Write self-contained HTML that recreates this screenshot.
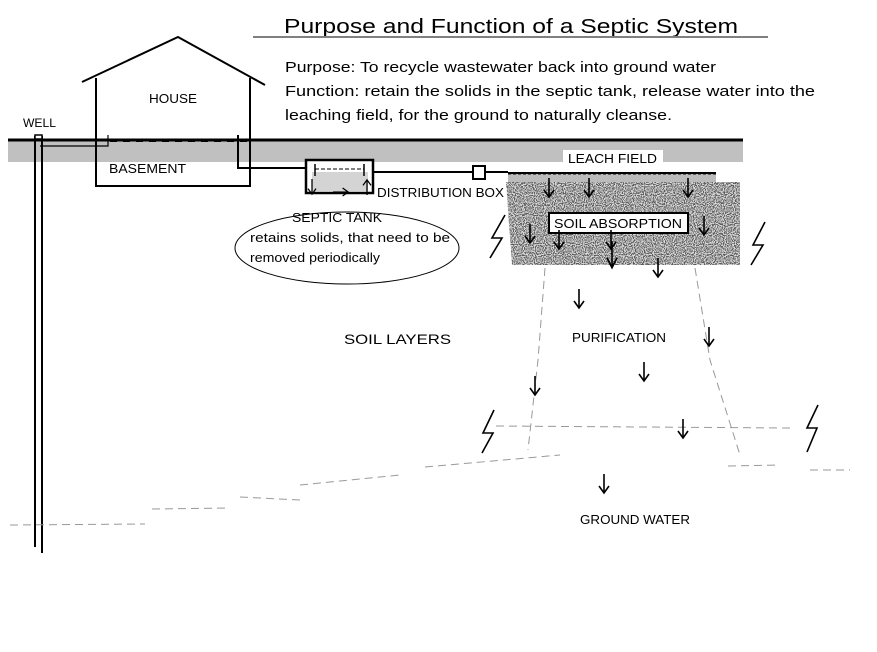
<!DOCTYPE html>
<html><head><meta charset="utf-8"><style>
html,body{margin:0;padding:0;background:#fff;}
svg{display:block;}
text{font-family:"Liberation Sans",sans-serif;fill:#000;}
</style></head><body>
<svg width="877" height="652" viewBox="0 0 877 652" xmlns="http://www.w3.org/2000/svg">
<defs>
<filter id="stip" x="0" y="0" width="100%" height="100%">
<feTurbulence type="fractalNoise" baseFrequency="0.9" numOctaves="1" seed="3" result="n"/>
<feColorMatrix in="n" type="matrix" values="0 0 0 0 0.1  0 0 0 0 0.1  0 0 0 0 0.1  0 0 0 -9 4.9" result="d"/>
<feComposite in="d" in2="SourceGraphic" operator="in"/>
</filter>
<g id="ar"><line x1="0" y1="-10" x2="0" y2="8" stroke="#000" stroke-width="1.6"/><polyline points="-5,2 0,9 5,2" fill="none" stroke="#000" stroke-width="1.6"/></g>
</defs>

<text x="284" y="33" font-size="20" textLength="454" lengthAdjust="spacingAndGlyphs">Purpose and Function of a Septic System</text>
<line x1="253" y1="37" x2="768" y2="37" stroke="#808080" stroke-width="2"/>
<text x="285" y="72" font-size="15" fill="#333" textLength="431" lengthAdjust="spacingAndGlyphs">Purpose: To recycle wastewater back into ground water</text>
<text x="285" y="96" font-size="15" textLength="530" lengthAdjust="spacingAndGlyphs">Function: retain the solids in the septic tank, release water into the</text>
<text x="285" y="120" font-size="15" textLength="387" lengthAdjust="spacingAndGlyphs">leaching field, for the ground to naturally cleanse.</text>

<rect x="8" y="141" width="735" height="21" fill="#c0c0c0"/>
<line x1="8" y1="140" x2="743" y2="140" stroke="#000" stroke-width="3"/>

<polyline points="82,82 178,37 265,85" fill="none" stroke="#000" stroke-width="2"/>
<polyline points="96,78 96,186 250,186 250,78" fill="none" stroke="#000" stroke-width="2"/>
<line x1="110" y1="141" x2="250" y2="141" stroke="#000" stroke-width="2" stroke-dasharray="7,6"/>
<text x="149" y="103" font-size="13" textLength="48" lengthAdjust="spacingAndGlyphs">HOUSE</text>
<text x="109" y="173" font-size="13" textLength="77" lengthAdjust="spacingAndGlyphs">BASEMENT</text>
<text x="23" y="127" font-size="12" textLength="33" lengthAdjust="spacingAndGlyphs">WELL</text>

<line x1="35" y1="136" x2="35" y2="547" stroke="#000" stroke-width="2"/>
<line x1="42" y1="136" x2="42" y2="553" stroke="#000" stroke-width="2"/>
<rect x="35" y="135" width="7" height="4" fill="#fff" stroke="#000" stroke-width="1.5"/>
<polyline points="40,146 108,146 108,135" fill="none" stroke="#000" stroke-width="1.2"/>

<polyline points="238,135 238,168 306,168" fill="none" stroke="#000" stroke-width="2"/>
<rect x="306" y="160" width="67" height="33" fill="#fff" stroke="#000" stroke-width="2.5"/>
<rect x="312" y="172" width="56" height="19" fill="#d4d4d4"/>
<line x1="315" y1="164" x2="315" y2="176" stroke="#000" stroke-width="1.5"/>
<line x1="364" y1="164" x2="364" y2="176" stroke="#000" stroke-width="1.5"/>
<line x1="315" y1="169" x2="364" y2="169" stroke="#000" stroke-width="1" stroke-dasharray="4,2"/>
<use href="#ar" transform="translate(312,187) scale(0.8)"/>
<use href="#ar" transform="translate(367,187) scale(0.8) rotate(180)"/>
<use href="#ar" transform="translate(341,192) scale(0.8) rotate(-90)"/>
<line x1="373" y1="172" x2="508" y2="172" stroke="#000" stroke-width="2"/>
<rect x="473" y="166" width="12" height="13" fill="#fff" stroke="#000" stroke-width="2"/>
<text x="377" y="197" font-size="12.5" textLength="127" lengthAdjust="spacingAndGlyphs">DISTRIBUTION BOX</text>

<ellipse cx="347" cy="248" rx="112" ry="36" fill="none" stroke="#000" stroke-width="1"/>
<text x="292" y="222" font-size="12.5" textLength="90" lengthAdjust="spacingAndGlyphs">SEPTIC TANK</text>
<text x="250" y="242" font-size="12.5" textLength="200" lengthAdjust="spacingAndGlyphs">retains solids, that need to be</text>
<text x="250" y="262" font-size="12.5" textLength="130" lengthAdjust="spacingAndGlyphs">removed periodically</text>

<rect x="563" y="150" width="100" height="16" fill="#fff"/>
<text x="568" y="163" font-size="12.5" textLength="89" lengthAdjust="spacingAndGlyphs">LEACH FIELD</text>
<rect x="508" y="172" width="208" height="10" fill="#bbb"/>
<line x1="508" y1="173" x2="716" y2="173" stroke="#000" stroke-width="2"/>
<line x1="508" y1="174" x2="716" y2="174" stroke="#000" stroke-width="1" stroke-dasharray="3,2"/>
<path d="M506,182 L740,182 L740,265 L512,265 Z" fill="#d8d8d8"/>
<path d="M506,182 L740,182 L740,265 L512,265 Z" fill="#fff" filter="url(#stip)"/>
<rect x="549" y="213" width="139" height="20" fill="#fff" stroke="#000" stroke-width="2"/>
<text x="554" y="228" font-size="12.5" textLength="128" lengthAdjust="spacingAndGlyphs">SOIL ABSORPTION</text>
<use href="#ar" transform="translate(549,188)"/>
<use href="#ar" transform="translate(589,188)"/>
<use href="#ar" transform="translate(688,188)"/>
<use href="#ar" transform="translate(530,234)"/>
<use href="#ar" transform="translate(559,240)"/>
<use href="#ar" transform="translate(611,240)"/>
<use href="#ar" transform="translate(704,226)"/>
<use href="#ar" transform="translate(612,255) scale(1,1.4)"/>
<use href="#ar" transform="translate(658,268)"/>

<g fill="none" stroke="#000" stroke-width="1.6">
<polyline points="505,215 492,238 502,238 490,258"/>
<polyline points="765,222 753,245 763,245 751,265"/>
<polyline points="494,410 483,433 493,433 482,453"/>
<polyline points="818,405 807,428 817,428 807,452"/>
</g>

<g fill="none" stroke="#999" stroke-width="1" stroke-dasharray="8,5">
<polyline points="545,268 538,360 528,450"/>
<polyline points="695,268 710,360 740,455"/>
<line x1="496" y1="426" x2="790" y2="428"/>
<polyline points="10,525 145,524"/>
<polyline points="152,509 230,508"/>
<polyline points="240,497 300,500"/>
<polyline points="300,485 400,475"/>
<polyline points="425,467 560,455"/>
<polyline points="728,466 780,465"/>
<polyline points="810,470 850,470"/>
</g>
<text x="344" y="344" font-size="14" fill="#888" textLength="107" lengthAdjust="spacingAndGlyphs">SOIL LAYERS</text>
<text x="572" y="342" font-size="12.5" textLength="94" lengthAdjust="spacingAndGlyphs">PURIFICATION</text>
<text x="580" y="524" font-size="12.5" textLength="110" lengthAdjust="spacingAndGlyphs">GROUND WATER</text>
<use href="#ar" transform="translate(579,299)"/>
<use href="#ar" transform="translate(709,337)"/>
<use href="#ar" transform="translate(644,372)"/>
<use href="#ar" transform="translate(535,386)"/>
<use href="#ar" transform="translate(683,429)"/>
<use href="#ar" transform="translate(604,484)"/>
</svg>
</body></html>
